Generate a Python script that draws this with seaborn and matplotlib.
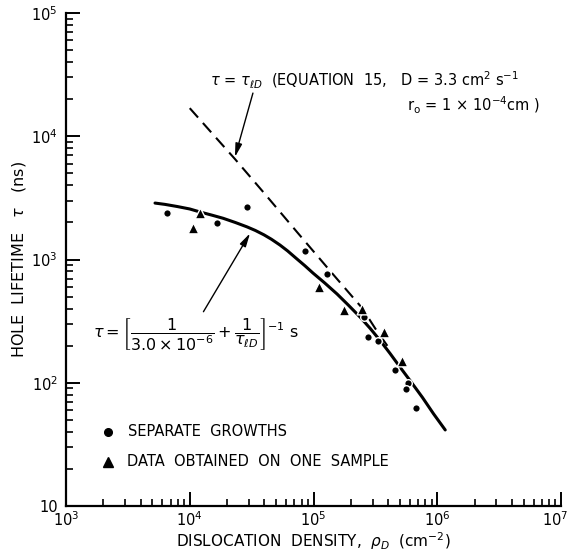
import numpy as np
import pandas as pd
import matplotlib
matplotlib.use("Agg")
import matplotlib.pyplot as plt
import matplotlib.transforms as mtransforms
import seaborn as sns
from matplotlib.ticker import FixedLocator, FixedFormatter, LogLocator, NullFormatter

# ---- data ----
sep_rho = [6.5e3, 1.65e4, 2.89e4, 8.5e4, 1.29e5, 2.58e5, 2.77e5, 3.34e5, 4.56e5, 5.84e5, 5.59e5, 6.73e5]
sep_tau = [2370, 1990, 2650, 1180, 763, 344, 234, 218, 127, 100, 88.5, 62]

one_rho = [1.07e4, 1.21e4, 1.11e5, 1.77e5, 2.48e5, 3.73e5, 5.16e5]
one_tau = [1790, 2370, 602, 389, 396, 257, 150]

fit_rho = [5.24e3, 6.31e3, 7.94e3, 1.0e4, 1.21e4, 1.51e4, 1.86e4, 2.34e4, 2.90e4, 3.39e4,
           3.98e4, 4.57e4, 5.36e4, 6.17e4, 7.24e4, 8.51e4, 9.91e4, 1.23e5, 1.55e5, 1.91e5,
           2.38e5, 2.88e5, 3.47e5, 4.17e5, 5.0e5, 6.17e5, 7.59e5, 9.33e5, 1.16e6]
fit_tau = [2870, 2800, 2690, 2570, 2430, 2290, 2160, 1995, 1840, 1720,
           1585, 1460, 1310, 1175, 1023, 891, 776, 646, 525, 427,
           341, 275, 219, 172, 134, 101, 76, 56, 41.4]

tld_rho = [1.0e4, 1.51e4, 2.32e4, 3.98e4, 7.36e4, 1.41e5, 2.47e5, 3.16e5, 4.0e5]
tld_tau = [1.69e4, 1.06e4, 6.53e3, 3.47e3, 1.67e3, 776, 404, 275, 196]

x_ticks = [1e3, 1e4, 1e5, 1e6, 1e7]
x_labels = ['$10^3$', '$10^4$', '$10^5$', '$10^6$', '$10^7$']
y_ticks = [1e1, 1e2, 1e3, 1e4, 1e5]
y_labels = ['10', '$10^2$', '$10^3$', '$10^4$', '$10^5$']

W, H = 571, 558
sns.set_style("ticks")
plt.rcParams['font.family'] = ['DejaVu Sans']
plt.rcParams['mathtext.fontset'] = 'dejavusans'
for k in ['text.color', 'axes.labelcolor', 'xtick.color', 'ytick.color',
          'xtick.labelcolor', 'ytick.labelcolor', 'axes.edgecolor']:
    plt.rcParams[k] = 'black'

fig = plt.figure(figsize=(W / 100, H / 100), dpi=100)
ax = fig.add_axes([66 / W, 1 - 506 / H, (561 - 66) / W, (506 - 13) / H])

def px(x, y):
    return (x / W, 1 - y / H)

fit_df = pd.DataFrame({'rho': fit_rho, 'tau': fit_tau})
tld_df = pd.DataFrame({'rho': tld_rho, 'tau': tld_tau})
sep_df = pd.DataFrame({'rho': sep_rho, 'tau': sep_tau})
one_df = pd.DataFrame({'rho': one_rho, 'tau': one_tau})

sns.lineplot(data=fit_df, x='rho', y='tau', ax=ax, color='black', lw=2.2,
             sort=False, estimator=None, zorder=2)
sns.lineplot(data=tld_df, x='rho', y='tau', ax=ax, color='black', lw=1.5,
             sort=False, estimator=None, zorder=2)
ax.lines[-1].set_dashes([6, 3.5])

sns.scatterplot(data=sep_df, x='rho', y='tau', ax=ax, marker='o', s=30,
                color='black', edgecolor='white', linewidth=1.0, zorder=3)
sns.scatterplot(data=one_df, x='rho', y='tau', ax=ax, marker='^', s=60,
                color='black', edgecolor='white', linewidth=1.0, zorder=3)

ax.set_xscale('log')
ax.set_yscale('log')
ax.set_xlim(1e3, 1e7)
ax.set_ylim(1e1, 1e5)

ax.xaxis.set_major_locator(FixedLocator(x_ticks))
ax.xaxis.set_major_formatter(FixedFormatter(x_labels))
ax.yaxis.set_major_locator(FixedLocator(y_ticks))
ax.yaxis.set_major_formatter(FixedFormatter(y_labels))
ax.xaxis.set_minor_locator(LogLocator(base=10, subs=np.arange(2, 10), numticks=20))
ax.yaxis.set_minor_locator(LogLocator(base=10, subs=np.arange(2, 10), numticks=20))
ax.xaxis.set_minor_formatter(NullFormatter())
ax.yaxis.set_minor_formatter(NullFormatter())

ax.tick_params(which='major', direction='in', length=10, width=1.4, labelsize=10.5,
               color='black', labelcolor='black')
ax.tick_params(axis='x', which='major', pad=3)
ax.tick_params(axis='y', which='major', pad=6)
ax.tick_params(which='minor', direction='in', length=5, width=1.2, color='black')
for s in ['top', 'right']:
    ax.spines[s].set_visible(False)
for s in ['left', 'bottom']:
    ax.spines[s].set_linewidth(1.6)
    ax.spines[s].set_color('black')

# keep the last x tick label inside the canvas
fig.canvas.draw()
last = ax.get_xticklabels()[-1]
last.set_transform(last.get_transform() + mtransforms.ScaledTranslation(-6 / 100, 0, fig.dpi_scale_trans))

ax.set_xlabel(r'DISLOCATION  DENSITY,  $\rho_D$  (cm$^{-2}$)', fontsize=11, labelpad=1)
ax.set_ylabel(r'HOLE  LIFETIME   $\tau$   (ns)', fontsize=11.5, labelpad=2)

# annotations
fig.text(*px(210, 80), r'$\tau$ = $\tau_{\ell D}$  (EQUATION  15,   D = 3.3 cm$^2$ s$^{-1}$',
         fontsize=10.5, va='center', ha='left')
fig.text(*px(407, 105), r'r$_\mathrm{o}$ = 1 $\times$ 10$^{-4}$cm )',
         fontsize=10.5, va='center', ha='left')
fig.text(*px(93, 334),
         r'$\tau = \left[\dfrac{1}{3.0\times10^{-6}} + \dfrac{1}{\tau_{\ell D}}\right]^{-1}$ s',
         fontsize=11.5, va='center', ha='left')

arrow_style = dict(arrowstyle='-|>,head_length=0.8,head_width=0.2', color='black', lw=1.0,
                   shrinkA=0, shrinkB=0)
ax.annotate('', xy=(2.32e4, 6.79e3), xytext=(3.24e4, 2.24e4), arrowprops=arrow_style)
ax.annotate('', xy=(3.07e4, 1.63e3), xytext=(1.29e4, 377), arrowprops=arrow_style)

# legend (text-style as in the reference)
ax.plot([2.18e3], [39.8], marker='o', color='black', ms=5.5, clip_on=False)
ax.plot([2.18e3], [22.8], marker='^', color='black', ms=7, clip_on=False)
fig.text(*px(128, 432), 'SEPARATE  GROWTHS', fontsize=10.5, va='center', ha='left')
fig.text(*px(127, 462), 'DATA  OBTAINED  ON  ONE  SAMPLE', fontsize=10.5, va='center', ha='left')

fig.savefig('out.png', dpi=100)
